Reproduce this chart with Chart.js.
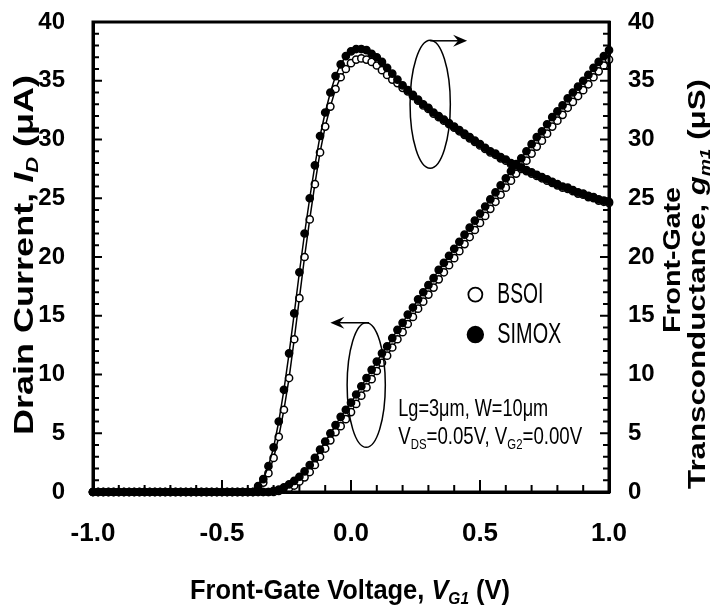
<!DOCTYPE html>
<html>
<head>
<meta charset="utf-8">
<script src="https://cdn.jsdelivr.net/npm/chart.js@4/dist/chart.umd.min.js"></script>
<style>
  body { margin: 0; background: #fff; }
</style>
</head>
<body>
<canvas id="myChart" width="712" height="615"></canvas>
<script>
// front-gate voltage V_G1 (V)
const vg = [
  -1.00, -0.98, -0.96, -0.94, -0.92, -0.90, -0.88, -0.86, -0.84, -0.82,
  -0.80, -0.78, -0.76, -0.74, -0.72, -0.70, -0.68, -0.66, -0.64, -0.62,
  -0.60, -0.58, -0.56, -0.54, -0.52, -0.50, -0.48, -0.46, -0.44, -0.42,
  -0.40, -0.38, -0.36, -0.34, -0.32, -0.30, -0.28, -0.26, -0.24, -0.22,
  -0.20, -0.18, -0.16, -0.14, -0.12, -0.10, -0.08, -0.06, -0.04, -0.02,
  0.00, 0.02, 0.04, 0.06, 0.08, 0.10, 0.12, 0.14, 0.16, 0.18,
  0.20, 0.22, 0.24, 0.26, 0.28, 0.30, 0.32, 0.34, 0.36, 0.38,
  0.40, 0.42, 0.44, 0.46, 0.48, 0.50, 0.52, 0.54, 0.56, 0.58,
  0.60, 0.62, 0.64, 0.66, 0.68, 0.70, 0.72, 0.74, 0.76, 0.78,
  0.80, 0.82, 0.84, 0.86, 0.88, 0.90, 0.92, 0.94, 0.96, 0.98,
  1.00
];

// transconductance g_m1 (uS)
const gmSimox = [
  0, 0, 0, 0, 0, 0, 0, 0, 0, 0,
  0, 0, 0, 0, 0, 0, 0, 0, 0, 0,
  0, 0, 0, 0, 0, 0, 0, 0, 0, 0,
  0, 0, 0.5, 1.1, 2.2, 3.8, 6.0, 8.7, 11.8, 15.2,
  18.7, 22.0, 25.0, 27.8, 30.3, 32.3, 34.0, 35.4, 36.4, 37.1,
  37.5, 37.7, 37.7, 37.6, 37.3, 37.0, 36.6, 36.1, 35.6, 35.1,
  34.6, 34.2, 33.8, 33.4, 33.0, 32.7, 32.3, 32.0, 31.7, 31.4,
  31.1, 30.8, 30.5, 30.2, 29.9, 29.6, 29.3, 29.0, 28.8, 28.5,
  28.3, 28.0, 27.8, 27.6, 27.4, 27.2, 27.0, 26.8, 26.6, 26.4,
  26.2, 26.0, 25.9, 25.7, 25.5, 25.4, 25.2, 25.1, 24.9, 24.8,
  24.7
];
const gmBsoi = [
  0, 0, 0, 0, 0, 0, 0, 0, 0, 0,
  0, 0, 0, 0, 0, 0, 0, 0, 0, 0,
  0, 0, 0, 0, 0, 0, 0, 0, 0, 0,
  0, 0, 0.3, 0.8, 1.6, 2.9, 4.7, 7.0, 9.7, 13.0,
  16.5, 20.0, 23.2, 26.2, 28.9, 31.1, 32.8, 34.3, 35.3, 36.0,
  36.5, 36.8, 36.9, 36.8, 36.6, 36.3, 35.9, 35.5, 35.1, 34.8,
  34.4, 34.1, 33.7, 33.3, 32.9, 32.6, 32.2, 31.9, 31.6, 31.3,
  31.0, 30.7, 30.4, 30.1, 29.8, 29.5, 29.2, 28.9, 28.7, 28.4,
  28.2, 27.9, 27.7, 27.5, 27.3, 27.1, 26.9, 26.7, 26.5, 26.3,
  26.1, 25.9, 25.8, 25.6, 25.4, 25.3, 25.1, 25.0, 24.8, 24.7,
  24.6
];

// drain current I_D (uA)
const idSimox = [
  0, 0, 0, 0, 0, 0, 0, 0, 0, 0,
  0, 0, 0, 0, 0, 0, 0, 0, 0, 0,
  0, 0, 0, 0, 0, 0, 0, 0, 0, 0,
  0, 0, 0, 0, 0, 0.1, 0.2, 0.4, 0.65, 0.95,
  1.3, 1.75, 2.3, 2.9, 3.6, 4.3, 5.0, 5.7, 6.4, 7.0,
  7.6, 8.3, 9.0, 9.7, 10.4, 11.1, 11.8, 12.4, 13.1, 13.8,
  14.4, 15.1, 15.7, 16.4, 17.0, 17.6, 18.2, 18.9, 19.5, 20.1,
  20.7, 21.3, 21.9, 22.5, 23.1, 23.7, 24.3, 24.9, 25.5, 26.1,
  26.7, 27.3, 27.9, 28.4, 29.0, 29.6, 30.2, 30.7, 31.3, 31.9,
  32.4, 32.9, 33.5, 34.0, 34.5, 35.0, 35.5, 36.1, 36.6, 37.1,
  37.6
];
const idBsoi = [
  0, 0, 0, 0, 0, 0, 0, 0, 0, 0,
  0, 0, 0, 0, 0, 0, 0, 0, 0, 0,
  0, 0, 0, 0, 0, 0, 0, 0, 0, 0,
  0, 0, 0, 0, 0, 0, 0.1, 0.2, 0.35, 0.55,
  0.9, 1.25, 1.7, 2.3, 3.0, 3.7, 4.4, 5.1, 5.6, 6.2,
  6.8, 7.5, 8.2, 8.9, 9.6, 10.3, 11.0, 11.6, 12.3, 13.0,
  13.6, 14.3, 14.9, 15.6, 16.2, 16.8, 17.4, 18.1, 18.7, 19.3,
  19.9, 20.5, 21.1, 21.7, 22.3, 22.9, 23.5, 24.1, 24.7, 25.3,
  25.9, 26.5, 27.1, 27.6, 28.2, 28.8, 29.4, 29.9, 30.5, 31.1,
  31.6, 32.1, 32.7, 33.2, 33.7, 34.2, 34.7, 35.3, 35.8, 36.3,
  36.8
];

const xTicks = [-1.0, -0.5, 0.0, 0.5, 1.0];
const yTicks = [0, 5, 10, 15, 20, 25, 30, 35, 40];

const FONT = '"Liberation Sans", Arial, sans-serif';

const pts = (arr) => arr.map((v, i) => ({ x: vg[i], y: v }));

function series(label, arr, axis, hollow) {
  return {
    label: label,
    data: pts(arr),
    yAxisID: axis,
    showLine: true,
    borderColor: "#000",
    borderWidth: 1.5,
    pointRadius: 3.6,
    pointBorderWidth: 1.5,
    pointBorderColor: "#000",
    pointBackgroundColor: hollow ? "#fff" : "#000",
    order: hollow ? 1 : 0,
    clip: false,
  };
}

// text with italic / subscript pieces, squeezed to a target width
function richText(ctx, parts, x, y, size, weight, align, targetW) {
  const fontOf = (p) =>
    (p.it ? "italic " : "") + weight + " " + (p.sub ? Math.round(size * 0.62) : size) + "px " + FONT;
  let total = 0;
  parts.forEach((p) => { ctx.font = fontOf(p); p.w = ctx.measureText(p.t).width; total += p.w; });
  const k = targetW ? targetW / total : 1;
  ctx.save();
  ctx.translate(x, y);
  ctx.scale(k, 1);
  ctx.textAlign = "left";
  ctx.textBaseline = "middle";
  let cx = align === "left" ? 0 : -total / 2;
  parts.forEach((p) => {
    ctx.font = fontOf(p);
    ctx.fillText(p.t, cx, p.sub ? size * 0.3 : 0);
    cx += p.w;
  });
  ctx.restore();
}

const decor = {
  id: "decor",
  afterDatasetsDraw(chart) {
    const { ctx, chartArea: a, scales } = chart;
    const sx = scales.x, sy = scales.y;
    ctx.save();
    ctx.fillStyle = "#000";
    ctx.strokeStyle = "#000";

    // frame
    ctx.lineWidth = 3;
    ctx.strokeRect(a.left, a.top, a.right - a.left, a.bottom - a.top);

    // inward minor ticks
    ctx.lineWidth = 2;
    ctx.beginPath();
    for (let v = 1; v < 40; v++) {
      const py = sy.getPixelForValue(v);
      const len = v % 5 === 0 ? 9 : 6;
      ctx.moveTo(a.left, py); ctx.lineTo(a.left + len, py);
      ctx.moveTo(a.right, py); ctx.lineTo(a.right - len, py);
    }
    for (let k = -9; k <= 9; k++) {
      const px = sx.getPixelForValue(k / 10);
      const len = k % 5 === 0 ? 12 : 7;
      ctx.moveTo(px, a.bottom); ctx.lineTo(px, a.bottom - len);
    }
    ctx.stroke();

    // ellipses with arrows
    ctx.lineWidth = 1.5;
    const ell = (vx, vy, rvx, rvy) => {
      const cx = sx.getPixelForValue(vx), cy = sy.getPixelForValue(vy);
      const rx = Math.abs(sx.getPixelForValue(vx + rvx) - cx);
      const ry = Math.abs(sy.getPixelForValue(vy + rvy) - cy);
      ctx.beginPath();
      ctx.ellipse(cx, cy, rx, ry, 0, 0, Math.PI * 2);
      ctx.stroke();
    };
    const arrow = (x0, x1, vy) => {
      const p0 = sx.getPixelForValue(x0), p1 = sx.getPixelForValue(x1);
      const py = sy.getPixelForValue(vy);
      const d = p1 > p0 ? 1 : -1;
      ctx.beginPath();
      ctx.moveTo(p0, py); ctx.lineTo(p1 - d * 6, py);
      ctx.stroke();
      ctx.beginPath();
      ctx.moveTo(p1, py);
      ctx.lineTo(p1 - d * 14, py - 6);
      ctx.lineTo(p1 - d * 9, py);
      ctx.lineTo(p1 - d * 14, py + 6);
      ctx.closePath();
      ctx.fill();
    };
    ell(0.307, 33.0, 0.078, 5.45);
    arrow(0.307, 0.45, 38.4);
    ell(0.059, 9.1, 0.074, 5.3);
    arrow(0.07, -0.08, 14.4);

    // legend
    const lx = sx.getPixelForValue(0.482);
    [["BSOI", 16.8, true], ["SIMOX", 13.4, false]].forEach(([txt, v, hollow]) => {
      const py = sy.getPixelForValue(v);
      ctx.beginPath();
      ctx.arc(lx, py, hollow ? 7 : 7.8, 0, Math.PI * 2);
      ctx.fillStyle = hollow ? "#fff" : "#000";
      ctx.fill();
      ctx.lineWidth = 1.8;
      ctx.stroke();
      ctx.fillStyle = "#000";
      richText(ctx, [{ t: txt }], lx + 22, py, 29, "normal", "left", hollow ? 46 : 64);
    });

    // condition note
    const nx = sx.getPixelForValue(0.183);
    richText(ctx, [{ t: "Lg=3μm, W=10μm" }], nx, sy.getPixelForValue(6.98), 23, "normal", "left", 150);
    richText(ctx, [
      { t: "V" }, { t: "DS", sub: true }, { t: "=0.05V, V" }, { t: "G2", sub: true }, { t: "=0.00V" }
    ], nx, sy.getPixelForValue(4.6), 23, "normal", "left", 184);

    // axis titles
    richText(ctx, [
      { t: "Front-Gate Voltage, " }, { t: "V", it: true }, { t: "G1", it: true, sub: true }, { t: " (V)" }
    ], 350, 591, 28, "bold", "center", 320);

    ctx.translate(25, 255);
    ctx.rotate(-Math.PI / 2);
    richText(ctx, [
      { t: "Drain Current, " }, { t: "I", it: true }, { t: "D", it: true, sub: true }, { t: " (μA)" }
    ], 0, 0, 28, "bold", "center", 360);
    ctx.setTransform(1, 0, 0, 1, 0, 0);

    ctx.translate(674, 260);
    ctx.rotate(-Math.PI / 2);
    richText(ctx, [{ t: "Front-Gate" }], 0, 0, 23, "bold", "center", 146);
    ctx.setTransform(1, 0, 0, 1, 0, 0);

    ctx.translate(699, 284);
    ctx.rotate(-Math.PI / 2);
    richText(ctx, [
      { t: "Transconductance, " }, { t: "g", it: true }, { t: "m1", it: true, sub: true }, { t: " (μS)" }
    ], 0, 0, 23, "bold", "center", 410);
    ctx.restore();
  },
};

const tickFont = { family: FONT, size: 24, weight: "bold" };

// keep the y tick padding from pushing the plot area down
const fitY = (w) => (s) => { s.width = w; s.paddingTop = 0; s.paddingBottom = 0; };

new Chart(document.getElementById("myChart"), {
  type: "scatter",
  data: {
    datasets: [
      series("BSOI gm", gmBsoi, "y2", true),
      series("SIMOX gm", gmSimox, "y2", false),
      series("BSOI ID", idBsoi, "y", true),
      series("SIMOX ID", idSimox, "y", false),
    ],
  },
  options: {
    responsive: false,
    animation: false,
    layout: { padding: { top: 22, left: 0, right: 0, bottom: 0 } },
    plugins: { legend: { display: false }, tooltip: { enabled: false } },
    scales: {
      x: {
        type: "linear",
        min: -1,
        max: 1,
        afterBuildTicks: (s) => { s.ticks = xTicks.map((v) => ({ value: v })); },
        afterFit: (s) => { s.height = 123; },
        grid: { drawOnChartArea: false, drawTicks: false },
        border: { color: "#000", width: 3 },
        ticks: {
          color: "#000",
          padding: 26,
          font: { family: FONT, size: 26, weight: "bold" },
          callback: (v) => Number(v).toFixed(1),
        },
      },
      y: {
        position: "left",
        min: 0,
        max: 40,
        afterBuildTicks: (s) => { s.ticks = yTicks.map((v) => ({ value: v })); },
        afterFit: fitY(93),
        grid: { drawOnChartArea: false, drawTicks: false },
        border: { color: "#000", width: 3 },
        ticks: { color: "#000", padding: 28, font: tickFont },
      },
      y2: {
        position: "right",
        min: 0,
        max: 40,
        afterBuildTicks: (s) => { s.ticks = yTicks.map((v) => ({ value: v })); },
        afterFit: fitY(103),
        grid: { drawOnChartArea: false, drawTicks: false },
        border: { color: "#000", width: 3 },
        ticks: { color: "#000", padding: 19, font: tickFont },
      },
    },
  },
  plugins: [decor],
});
</script>
</body>
</html>
